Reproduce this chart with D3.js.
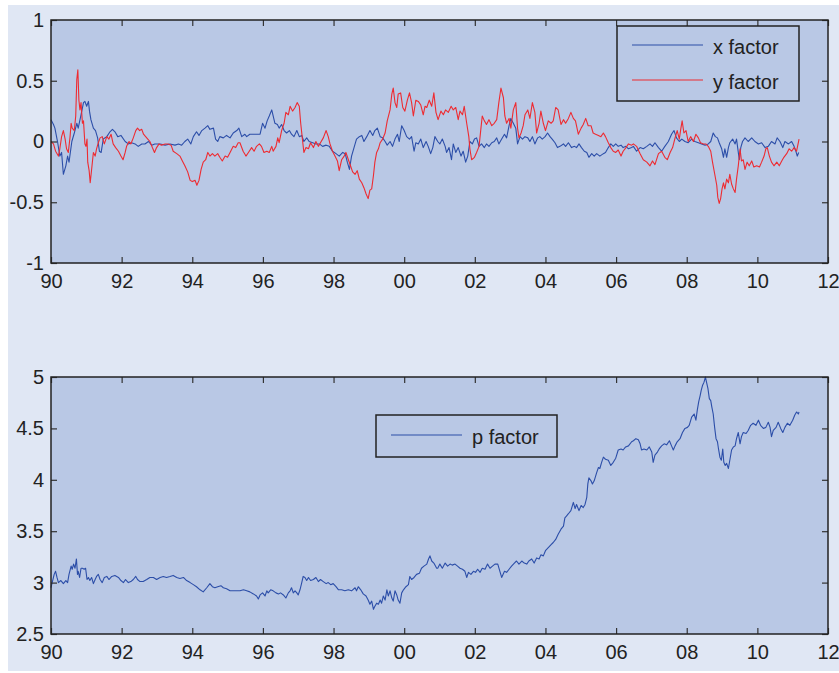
<!DOCTYPE html>
<html>
<head>
<meta charset="utf-8">
<script src="https://cdn.jsdelivr.net/npm/d3@7"></script>
<style>
  body { margin: 0; background: #fff; }
  text { font-family: "Liberation Sans", Arial, sans-serif; fill: #222; }
</style>
</head>
<body>
<div id="chart"></div>
<script>
// x-axis ticks (years) and their printed labels
var yearTicks = [1990, 1992, 1994, 1996, 1998, 2000, 2002, 2004, 2006, 2008, 2010, 2012];
var topTicks = [-1, -0.5, 0, 0.5, 1];
var bottomTicks = [2.5, 3, 3.5, 4, 4.5, 5];

// [year, value]
var xFactor = [[1990.00,0.18],[1990.07,0.14],[1990.11,0.11],[1990.19,-0.01],[1990.25,-0.12],[1990.30,-0.09],[1990.35,-0.27],[1990.42,-0.20],[1990.47,-0.12],[1990.51,-0.17],[1990.59,0.00],[1990.66,0.07],[1990.73,0.15],[1990.77,0.11],[1990.85,0.22],[1990.92,0.32],[1990.96,0.33],[1991.01,0.29],[1991.06,0.33],[1991.09,0.25],[1991.13,0.18],[1991.20,0.11],[1991.26,0.09],[1991.32,0.03],[1991.37,-0.08],[1991.42,-0.09],[1991.48,0.02],[1991.58,0.04],[1991.67,0.08],[1991.74,0.10],[1991.81,0.08],[1991.89,0.04],[1991.98,0.05],[1992.10,0.00],[1992.19,-0.02],[1992.28,-0.01],[1992.38,-0.02],[1992.47,-0.04],[1992.57,-0.02],[1992.66,-0.02],[1992.76,0.00],[1992.85,-0.03],[1992.94,-0.02],[1993.09,-0.02],[1993.23,-0.03],[1993.37,-0.02],[1993.51,-0.03],[1993.61,-0.02],[1993.70,-0.03],[1993.79,0.00],[1993.87,0.02],[1993.96,-0.02],[1994.03,0.04],[1994.12,0.08],[1994.19,0.05],[1994.27,0.09],[1994.36,0.11],[1994.44,0.13],[1994.50,0.10],[1994.60,0.11],[1994.66,0.02],[1994.72,0.00],[1994.78,0.04],[1994.88,0.03],[1994.97,0.05],[1995.07,0.03],[1995.16,0.07],[1995.26,0.09],[1995.32,0.11],[1995.40,0.04],[1995.49,0.06],
  [1995.54,0.04],[1995.63,0.06],[1995.78,0.06],[1995.92,0.06],[1995.99,0.15],[1996.06,0.11],[1996.12,0.17],[1996.18,0.21],[1996.25,0.26],[1996.29,0.21],[1996.34,0.15],[1996.41,0.14],[1996.46,0.11],[1996.53,0.14],[1996.60,0.09],[1996.67,0.07],[1996.75,0.09],[1996.81,0.06],[1996.88,0.04],[1996.96,0.09],[1997.03,0.04],[1997.10,0.05],[1997.16,0.00],[1997.24,0.03],[1997.31,0.00],[1997.41,-0.01],[1997.50,-0.02],[1997.60,-0.02],[1997.69,-0.04],[1997.79,-0.03],[1997.88,-0.04],[1997.97,-0.08],[1998.07,-0.10],[1998.16,-0.12],[1998.26,-0.09],[1998.33,-0.10],[1998.39,-0.17],[1998.45,-0.23],[1998.51,-0.12],[1998.58,-0.05],[1998.65,0.02],[1998.73,0.04],[1998.80,0.05],[1998.86,0.00],[1998.94,0.04],[1999.03,0.09],[1999.11,0.05],[1999.17,0.09],[1999.24,0.11],[1999.32,0.04],[1999.39,0.03],[1999.46,0.00],[1999.52,-0.03],[1999.60,0.00],[1999.67,-0.04],[1999.74,0.02],[1999.81,0.06],[1999.86,0.00],[1999.93,0.13],[2000.00,0.09],[2000.07,0.04],[2000.15,0.02],[2000.21,0.04],[2000.28,-0.08],[2000.33,-0.01],[2000.40,-0.02],[2000.47,0.02],[2000.54,-0.05],[2000.62,0.00],[2000.68,-0.04],[2000.75,-0.10],[2000.81,-0.05],[2000.87,0.04],[2000.95,0.00],[2001.01,-0.02],
  [2001.08,0.02],[2001.16,-0.04],[2001.20,-0.09],[2001.27,-0.05],[2001.34,-0.15],[2001.39,-0.02],[2001.46,-0.09],[2001.53,-0.05],[2001.61,-0.12],[2001.67,-0.08],[2001.74,-0.17],[2001.80,-0.12],[2001.86,0.00],[2001.93,-0.02],[2001.99,0.02],[2002.05,0.03],[2002.12,-0.04],[2002.19,-0.02],[2002.27,-0.05],[2002.33,-0.02],[2002.40,-0.04],[2002.48,-0.01],[2002.55,0.00],[2002.62,0.03],[2002.68,-0.02],[2002.76,0.02],[2002.84,0.06],[2002.90,0.03],[2002.97,0.13],[2003.02,0.19],[2003.09,0.15],[2003.16,0.11],[2003.21,-0.02],[2003.28,0.04],[2003.35,0.02],[2003.42,0.04],[2003.50,0.03],[2003.56,0.00],[2003.63,0.04],[2003.70,-0.02],[2003.78,0.03],[2003.84,0.04],[2003.91,0.02],[2003.99,0.04],[2004.06,0.07],[2004.13,0.04],[2004.19,0.02],[2004.27,-0.01],[2004.34,-0.05],[2004.41,-0.04],[2004.51,-0.02],[2004.57,-0.04],[2004.65,-0.01],[2004.74,-0.05],[2004.82,-0.04],[2004.88,-0.05],[2004.95,-0.02],[2005.02,-0.05],[2005.10,-0.08],[2005.17,-0.09],[2005.23,-0.13],[2005.31,-0.10],[2005.38,-0.12],[2005.45,-0.10],[2005.54,-0.12],[2005.64,-0.10],[2005.70,-0.09],[2005.78,-0.05],[2005.85,-0.02],[2005.92,-0.04],[2005.99,-0.02],[2006.06,-0.04],[2006.14,-0.03],[2006.20,-0.05],[2006.28,-0.04],[2006.35,-0.06],
  [2006.44,-0.05],[2006.49,-0.04],[2006.58,-0.08],[2006.68,-0.05],[2006.77,-0.06],[2006.87,-0.04],[2006.96,-0.02],[2007.03,-0.04],[2007.10,-0.01],[2007.20,-0.05],[2007.29,-0.08],[2007.38,-0.04],[2007.48,0.00],[2007.57,0.06],[2007.64,0.09],[2007.71,0.03],[2007.79,0.00],[2007.86,0.02],[2007.95,0.00],[2008.04,-0.01],[2008.14,0.02],[2008.23,0.00],[2008.33,-0.01],[2008.42,-0.02],[2008.52,-0.03],[2008.61,-0.02],[2008.68,0.00],[2008.75,0.07],[2008.81,0.04],[2008.87,0.03],[2008.92,-0.01],[2008.99,-0.06],[2009.04,-0.13],[2009.08,-0.06],[2009.13,-0.13],[2009.18,-0.05],[2009.22,-0.01],[2009.30,0.02],[2009.37,-0.02],[2009.41,0.02],[2009.46,-0.09],[2009.49,-0.15],[2009.53,-0.05],[2009.58,0.00],[2009.65,0.03],[2009.74,0.00],[2009.84,0.03],[2009.93,0.00],[2010.03,-0.02],[2010.12,-0.01],[2010.22,-0.05],[2010.31,-0.04],[2010.40,0.00],[2010.50,-0.02],[2010.56,0.03],[2010.64,0.00],[2010.72,-0.05],[2010.78,0.00],[2010.88,-0.02],[2010.97,0.00],[2011.04,-0.04],[2011.09,-0.08],[2011.13,-0.12],[2011.17,-0.09]];

var yFactor = [[1990.00,0.00],[1990.07,-0.02],[1990.13,-0.08],[1990.21,-0.12],[1990.25,-0.06],[1990.30,0.04],[1990.35,0.09],[1990.40,0.02],[1990.44,-0.06],[1990.49,-0.09],[1990.54,0.04],[1990.57,0.15],[1990.60,0.11],[1990.66,0.09],[1990.70,0.21],[1990.73,0.51],[1990.76,0.59],[1990.79,0.34],[1990.82,0.26],[1990.85,0.32],[1990.89,0.15],[1990.92,0.17],[1990.96,-0.02],[1990.99,-0.04],[1991.02,0.02],[1991.04,-0.17],[1991.08,-0.24],[1991.11,-0.34],[1991.15,-0.23],[1991.20,-0.09],[1991.25,-0.12],[1991.29,-0.06],[1991.34,-0.01],[1991.39,0.03],[1991.45,0.04],[1991.51,-0.02],[1991.58,0.04],[1991.64,0.02],[1991.70,0.06],[1991.76,-0.02],[1991.83,-0.05],[1991.91,-0.08],[1991.98,-0.12],[1992.04,-0.15],[1992.10,-0.09],[1992.14,-0.04],[1992.21,0.00],[1992.26,-0.02],[1992.33,0.03],[1992.40,0.09],[1992.45,0.11],[1992.51,0.09],[1992.57,0.10],[1992.62,0.06],[1992.68,0.04],[1992.74,0.02],[1992.80,0.00],[1992.87,-0.05],[1992.93,-0.09],[1992.99,-0.05],[1993.06,-0.02],[1993.13,-0.03],[1993.23,-0.02],[1993.32,-0.02],[1993.40,-0.03],[1993.46,-0.08],[1993.56,-0.10],[1993.65,-0.12],[1993.72,-0.16],[1993.79,-0.20],[1993.87,-0.25],[1993.94,-0.32],[1994.00,-0.33],[1994.08,-0.32],[1994.13,-0.36],[1994.19,-0.32],[1994.25,-0.23],[1994.31,-0.17],[1994.38,-0.15],[1994.44,-0.09],[1994.50,-0.12],[1994.57,-0.10],[1994.64,-0.12],[1994.72,-0.10],[1994.78,-0.13],[1994.85,-0.16],[1994.93,-0.12],[1995.00,-0.13],[1995.07,-0.09],[1995.16,-0.04],[1995.23,-0.05],[1995.30,-0.01],
  [1995.35,-0.01],[1995.44,-0.08],[1995.52,-0.12],[1995.59,-0.09],[1995.68,-0.05],[1995.75,-0.08],[1995.82,-0.04],[1995.90,-0.02],[1995.96,-0.04],[1996.03,-0.09],[1996.11,-0.08],[1996.18,-0.09],[1996.25,-0.04],[1996.29,-0.08],[1996.37,-0.04],[1996.42,0.03],[1996.46,-0.01],[1996.53,0.09],[1996.60,0.15],[1996.65,0.24],[1996.72,0.22],[1996.77,0.29],[1996.84,0.25],[1996.91,0.28],[1996.97,0.32],[1997.03,0.29],[1997.07,0.15],[1997.13,-0.01],[1997.16,-0.09],[1997.22,-0.05],[1997.29,-0.06],[1997.35,-0.01],[1997.43,-0.05],[1997.50,0.00],[1997.57,-0.04],[1997.63,-0.01],[1997.71,0.03],[1997.79,0.09],[1997.85,0.04],[1997.90,-0.02],[1997.97,-0.08],[1998.04,-0.12],[1998.11,-0.16],[1998.16,-0.24],[1998.23,-0.15],[1998.30,-0.12],[1998.35,-0.09],[1998.42,-0.15],[1998.48,-0.20],[1998.54,-0.25],[1998.61,-0.27],[1998.67,-0.24],[1998.73,-0.31],[1998.80,-0.34],[1998.86,-0.38],[1998.92,-0.43],[1998.98,-0.47],[1999.03,-0.40],[1999.08,-0.39],[1999.13,-0.28],[1999.17,-0.17],[1999.22,-0.09],[1999.27,-0.06],[1999.32,-0.01],[1999.39,0.02],[1999.46,0.07],[1999.52,0.17],[1999.60,0.26],[1999.65,0.39],[1999.69,0.44],[1999.74,0.32],[1999.79,0.28],[1999.83,0.39],[1999.90,0.40],[1999.96,0.28],[2000.02,0.25],[2000.09,0.34],[2000.15,0.40],[2000.21,0.32],[2000.26,0.21],[2000.33,0.34],[2000.40,0.33],[2000.47,0.30],[2000.54,0.22],[2000.59,0.29],[2000.64,0.28],[2000.71,0.34],[2000.78,0.29],[2000.84,0.40],[2000.90,0.24],[2000.96,0.18],
  [2001.04,0.25],[2001.11,0.22],[2001.17,0.26],[2001.25,0.24],[2001.33,0.29],[2001.39,0.26],[2001.46,0.28],[2001.53,0.18],[2001.58,0.25],[2001.65,0.22],[2001.70,0.29],[2001.77,0.15],[2001.83,0.04],[2001.86,-0.06],[2001.91,-0.15],[2001.99,-0.13],[2002.05,-0.09],[2002.12,-0.04],[2002.17,0.10],[2002.21,0.21],[2002.27,0.17],[2002.33,0.14],[2002.40,0.18],[2002.48,0.13],[2002.55,0.15],[2002.62,0.18],[2002.68,0.32],[2002.74,0.44],[2002.81,0.36],[2002.85,0.21],[2002.90,0.15],[2002.97,0.19],[2003.02,0.11],[2003.09,0.26],[2003.16,0.32],[2003.21,0.11],[2003.25,0.03],[2003.31,0.07],[2003.37,0.13],[2003.42,0.22],[2003.50,0.26],[2003.56,0.19],[2003.63,0.32],[2003.70,0.24],[2003.75,0.07],[2003.82,0.15],[2003.87,0.25],[2003.94,0.15],[2004.00,0.09],[2004.08,0.17],[2004.16,0.15],[2004.22,0.17],[2004.29,0.28],[2004.36,0.26],[2004.44,0.14],[2004.51,0.18],[2004.57,0.15],[2004.65,0.19],[2004.72,0.24],[2004.79,0.19],[2004.85,0.17],[2004.93,0.06],[2005.01,0.11],[2005.07,0.14],[2005.14,0.19],[2005.21,0.13],[2005.29,0.13],[2005.35,0.07],[2005.42,0.06],[2005.50,0.05],[2005.57,0.04],[2005.64,0.07],[2005.70,0.04],[2005.78,-0.01],[2005.85,-0.05],[2005.92,-0.08],[2005.99,-0.09],[2006.06,-0.07],[2006.14,-0.12],[2006.20,-0.08],[2006.28,-0.05],[2006.35,-0.02],
  [2006.44,-0.03],[2006.49,-0.02],[2006.58,-0.04],[2006.68,-0.10],[2006.77,-0.15],[2006.87,-0.17],[2006.96,-0.20],[2007.03,-0.16],[2007.10,-0.19],[2007.20,-0.10],[2007.29,-0.08],[2007.38,-0.13],[2007.45,-0.15],[2007.53,-0.09],[2007.60,-0.05],[2007.67,0.03],[2007.73,0.09],[2007.79,0.02],[2007.83,0.10],[2007.87,0.17],[2007.92,0.07],[2007.98,0.09],[2008.04,0.00],[2008.11,0.04],[2008.19,0.00],[2008.26,0.06],[2008.33,0.03],[2008.39,-0.01],[2008.47,-0.02],[2008.54,-0.02],[2008.61,-0.04],[2008.68,-0.08],[2008.73,-0.17],[2008.80,-0.28],[2008.85,-0.36],[2008.88,-0.46],[2008.92,-0.51],[2008.96,-0.47],[2009.00,-0.39],[2009.04,-0.34],[2009.08,-0.39],[2009.13,-0.31],[2009.18,-0.34],[2009.22,-0.27],[2009.27,-0.35],[2009.32,-0.39],[2009.37,-0.42],[2009.41,-0.31],[2009.46,-0.20],[2009.51,-0.06],[2009.55,-0.16],[2009.60,-0.15],[2009.65,-0.23],[2009.71,-0.17],[2009.77,-0.20],[2009.84,-0.16],[2009.90,-0.21],[2009.98,-0.20],[2010.06,-0.21],[2010.12,-0.17],[2010.19,-0.12],[2010.24,-0.06],[2010.28,-0.05],[2010.34,-0.12],[2010.40,-0.17],[2010.47,-0.20],[2010.55,-0.17],[2010.62,-0.20],[2010.69,-0.16],[2010.75,-0.13],[2010.83,-0.10],[2010.90,-0.06],[2010.97,-0.08],[2011.04,-0.05],[2011.11,-0.08],[2011.16,-0.01],[2011.18,0.02]];

var pFactor = [[1990.00,2.95],[1990.04,3.01],[1990.09,3.08],[1990.13,3.11],[1990.17,3.05],[1990.21,3.00],[1990.28,3.02],[1990.35,2.99],[1990.42,3.02],[1990.47,3.00],[1990.51,3.08],[1990.57,3.16],[1990.60,3.13],[1990.64,3.18],[1990.68,3.14],[1990.72,3.23],[1990.75,3.08],[1990.77,3.11],[1990.81,3.05],[1990.85,3.14],[1990.89,3.14],[1990.94,3.13],[1990.98,3.14],[1991.02,3.03],[1991.06,3.05],[1991.10,3.02],[1991.15,3.05],[1991.20,2.99],[1991.25,3.03],[1991.29,3.06],[1991.34,3.08],[1991.39,3.03],[1991.45,3.00],[1991.51,3.05],[1991.58,3.06],[1991.64,3.03],[1991.72,3.06],[1991.81,3.07],[1991.91,3.05],[1991.98,3.02],[1992.05,3.00],[1992.11,3.03],[1992.19,3.00],[1992.26,3.01],[1992.33,3.03],[1992.40,3.06],[1992.45,3.03],[1992.52,3.01],[1992.61,3.01],[1992.71,3.03],[1992.80,3.05],[1992.90,3.05],[1992.99,3.03],[1993.09,3.05],[1993.18,3.06],[1993.27,3.05],[1993.37,3.06],[1993.46,3.07],[1993.56,3.05],[1993.65,3.04],[1993.75,3.05],[1993.84,3.02],[1993.94,3.00],[1994.03,2.98],[1994.12,2.96],[1994.22,2.93],[1994.31,2.91],[1994.41,2.95],[1994.50,2.99],[1994.57,2.96],[1994.64,2.95],[1994.72,2.96],[1994.81,2.97],[1994.88,2.95],[1994.97,2.94],[1995.07,2.92],[1995.16,2.92],[1995.26,2.92],[1995.35,2.92],[1995.45,2.93],
  [1995.54,2.92],[1995.63,2.91],[1995.73,2.89],[1995.82,2.87],[1995.87,2.84],[1995.92,2.88],[1995.99,2.90],[1996.06,2.87],[1996.11,2.92],[1996.15,2.90],[1996.22,2.93],[1996.29,2.92],[1996.37,2.90],[1996.44,2.89],[1996.50,2.90],[1996.58,2.88],[1996.65,2.85],[1996.72,2.90],[1996.77,2.92],[1996.81,2.95],[1996.86,2.90],[1996.91,2.92],[1996.96,2.90],[1997.00,2.88],[1997.05,2.93],[1997.10,3.00],[1997.14,3.06],[1997.19,3.05],[1997.24,3.02],[1997.29,3.05],[1997.35,3.02],[1997.43,3.03],[1997.50,3.05],[1997.57,3.01],[1997.63,3.03],[1997.71,3.01],[1997.79,2.99],[1997.85,3.00],[1997.92,2.98],[1997.99,2.99],[1998.07,2.96],[1998.14,2.93],[1998.23,2.93],[1998.32,2.92],[1998.42,2.93],[1998.51,2.92],[1998.61,2.95],[1998.65,2.92],[1998.70,2.96],[1998.77,2.93],[1998.84,2.89],[1998.92,2.87],[1998.98,2.83],[1999.03,2.79],[1999.08,2.82],[1999.13,2.74],[1999.17,2.77],[1999.22,2.80],[1999.27,2.79],[1999.32,2.83],[1999.36,2.80],[1999.41,2.87],[1999.46,2.83],[1999.51,2.93],[1999.55,2.87],[1999.60,2.92],[1999.65,2.85],[1999.69,2.82],[1999.74,2.92],[1999.79,2.88],[1999.83,2.83],[1999.88,2.80],[1999.93,2.90],[1999.98,2.93],[2000.05,2.96],[2000.12,2.98],[2000.16,3.06],[2000.21,3.03],[2000.28,3.05],[2000.35,3.08],[2000.43,3.09],[2000.49,3.14],[2000.56,3.16],[2000.64,3.18],[2000.69,3.23],[2000.73,3.26],[2000.78,3.21],[2000.84,3.19],[2000.92,3.14],
  [2000.95,3.14],[2001.01,3.18],[2001.08,3.14],[2001.16,3.19],[2001.23,3.16],[2001.30,3.18],[2001.36,3.17],[2001.44,3.18],[2001.51,3.16],[2001.58,3.14],[2001.65,3.13],[2001.72,3.11],[2001.77,3.05],[2001.82,3.10],[2001.89,3.08],[2001.96,3.11],[2002.02,3.10],[2002.08,3.13],[2002.15,3.10],[2002.21,3.14],[2002.29,3.13],[2002.36,3.18],[2002.43,3.14],[2002.50,3.16],[2002.57,3.18],[2002.65,3.18],[2002.71,3.11],[2002.76,3.05],[2002.84,3.11],[2002.90,3.10],[2002.97,3.13],[2003.04,3.16],[2003.12,3.19],[2003.18,3.21],[2003.25,3.18],[2003.33,3.21],[2003.40,3.19],[2003.47,3.18],[2003.53,3.21],[2003.61,3.23],[2003.68,3.19],[2003.75,3.24],[2003.82,3.23],[2003.87,3.27],[2003.94,3.26],[2004.00,3.31],[2004.08,3.34],[2004.16,3.37],[2004.22,3.39],[2004.29,3.42],[2004.36,3.47],[2004.44,3.52],[2004.51,3.55],[2004.55,3.63],[2004.60,3.65],[2004.65,3.67],[2004.72,3.70],[2004.79,3.78],[2004.84,3.72],[2004.88,3.76],[2004.95,3.70],[2005.01,3.75],[2005.07,3.73],[2005.12,3.76],[2005.17,3.83],[2005.20,3.96],[2005.23,4.02],[2005.29,3.99],[2005.33,3.96],[2005.38,3.99],[2005.45,4.07],[2005.50,4.12],[2005.54,4.11],[2005.59,4.17],[2005.64,4.22],[2005.70,4.20],[2005.78,4.19],[2005.85,4.14],[2005.92,4.17],[2005.99,4.21],[2006.06,4.29],[2006.14,4.30],[2006.20,4.29],[2006.27,4.32],[2006.35,4.33],
  [2006.44,4.37],[2006.49,4.38],[2006.56,4.40],[2006.63,4.39],[2006.68,4.35],[2006.72,4.29],[2006.79,4.30],[2006.87,4.29],[2006.94,4.32],[2007.01,4.27],[2007.05,4.17],[2007.10,4.24],[2007.17,4.27],[2007.22,4.30],[2007.29,4.33],[2007.36,4.35],[2007.43,4.34],[2007.51,4.38],[2007.57,4.33],[2007.62,4.29],[2007.67,4.33],[2007.73,4.37],[2007.81,4.40],[2007.88,4.46],[2007.95,4.50],[2008.02,4.51],[2008.07,4.53],[2008.14,4.61],[2008.21,4.64],[2008.26,4.58],[2008.30,4.68],[2008.34,4.76],[2008.38,4.82],[2008.41,4.87],[2008.45,4.92],[2008.49,4.95],[2008.53,5.00],[2008.56,4.95],[2008.60,4.89],[2008.64,4.79],[2008.68,4.77],[2008.71,4.71],[2008.75,4.64],[2008.79,4.51],[2008.83,4.40],[2008.87,4.37],[2008.90,4.30],[2008.94,4.22],[2008.98,4.19],[2009.02,4.30],[2009.05,4.17],[2009.09,4.14],[2009.13,4.16],[2009.18,4.11],[2009.22,4.19],[2009.27,4.29],[2009.32,4.32],[2009.37,4.33],[2009.41,4.40],[2009.46,4.46],[2009.51,4.35],[2009.55,4.42],[2009.60,4.46],[2009.68,4.45],[2009.74,4.48],[2009.81,4.53],[2009.88,4.55],[2009.96,4.53],[2010.03,4.58],[2010.09,4.53],[2010.17,4.50],[2010.24,4.51],[2010.31,4.56],[2010.36,4.51],[2010.40,4.42],[2010.45,4.48],[2010.53,4.51],[2010.59,4.56],[2010.66,4.50],[2010.72,4.46],[2010.78,4.51],[2010.85,4.55],[2010.92,4.53],[2011.00,4.58],[2011.06,4.63],[2011.11,4.66],[2011.16,4.64],[2011.18,4.66]];

var blue = "#2c4ea8", red = "#ee2b31";
var W = 839, H = 673;

var svg = d3.select("#chart").append("svg")
    .attr("width", W)
    .attr("height", H);

svg.append("rect")
    .attr("x", 8).attr("y", 5)
    .attr("width", W - 8).attr("height", 666)
    .attr("fill", "#e0e7f4");

var x = d3.scaleLinear().domain([1990, 2012]).range([51, 828]);

function yearLabel(d) { return String(d % 100).padStart(2, "0"); }

function panel(top, bottom, yDomain, yTicks, series, legend) {
    var y = d3.scaleLinear().domain(yDomain).range([bottom, top]);
    var g = svg.append("g");

    g.append("rect")
        .attr("x", x.range()[0]).attr("y", top)
        .attr("width", x.range()[1] - x.range()[0])
        .attr("height", bottom - top)
        .attr("fill", "#b9c8e5");

    var line = d3.line().x(d => x(d[0])).y(d => y(d[1]));
    series.forEach(function(s) {
        g.append("path")
            .datum(s.data)
            .attr("fill", "none")
            .attr("stroke", s.color)
            .attr("stroke-width", 1.1)
            .attr("stroke-linejoin", "round")
            .attr("d", line);
    });

    // axes, ticks point inward on all four sides
    var axB = g.append("g").attr("transform", `translate(0,${bottom})`)
        .call(d3.axisBottom(x).tickValues(yearTicks).tickFormat(yearLabel).tickSize(-6).tickPadding(11));
    var axT = g.append("g").attr("transform", `translate(0,${top})`)
        .call(d3.axisTop(x).tickValues(yearTicks).tickFormat("").tickSize(-6));
    var axL = g.append("g").attr("transform", `translate(${x.range()[0]},0)`)
        .call(d3.axisLeft(y).tickValues(yTicks).tickFormat(d => String(d)).tickSize(-6).tickPadding(7));
    var axR = g.append("g").attr("transform", `translate(${x.range()[1]},0)`)
        .call(d3.axisRight(y).tickValues(yTicks).tickFormat("").tickSize(-6));

    [axB, axT, axL, axR].forEach(function(a) {
        a.select(".domain").remove();
        a.selectAll("line").attr("stroke", "#333").attr("stroke-width", 1.2);
        a.selectAll("text").attr("font-size", 20).attr("fill", "#222")
            .attr("font-family", '"Liberation Sans", Arial, sans-serif');
    });

    g.append("rect")
        .attr("x", x.range()[0]).attr("y", top)
        .attr("width", x.range()[1] - x.range()[0])
        .attr("height", bottom - top)
        .attr("fill", "none")
        .attr("stroke", "#222")
        .attr("stroke-width", 1.5);

    // legend
    var lg = g.append("g");
    lg.append("rect")
        .attr("x", legend.x).attr("y", legend.y)
        .attr("width", legend.w).attr("height", legend.h)
        .attr("fill", "#b9c8e5")
        .attr("stroke", "#222")
        .attr("stroke-width", 1.5);
    series.forEach(function(s, i) {
        var ly = legend.y + legend.first + i * 35;
        lg.append("line")
            .attr("x1", legend.x + 15).attr("x2", legend.x + 86)
            .attr("y1", ly).attr("y2", ly)
            .attr("stroke", s.color).attr("stroke-width", 1.1);
        lg.append("text")
            .attr("x", legend.x + 96).attr("y", ly + 9)
            .attr("font-size", 20)
            .text(s.name);
    });
}

panel(20, 263, [-1, 1], topTicks,
    [{ name: "x factor", data: xFactor, color: blue },
     { name: "y factor", data: yFactor, color: red }],
    { x: 617, y: 26, w: 182, h: 75, first: 19 });

panel(377, 634, [2.5, 5], bottomTicks,
    [{ name: "p factor", data: pFactor, color: blue }],
    { x: 376, y: 415, w: 181, h: 42, first: 20 });
</script>
</body>
</html>
